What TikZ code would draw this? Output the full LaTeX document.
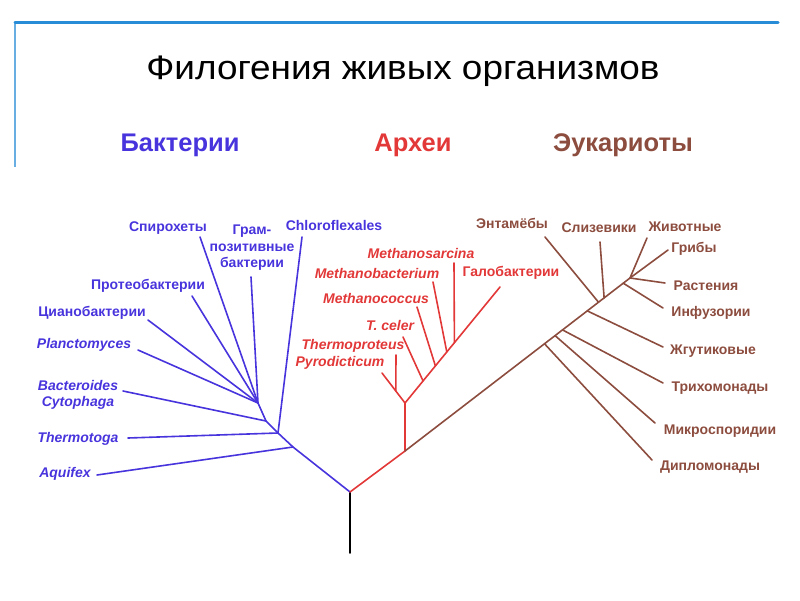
\documentclass[tikz,border=0pt]{standalone}
\usepackage{fontspec}
\setmainfont{Liberation Sans}
\usetikzlibrary{calc}
\definecolor{frameblue}{RGB}{40,140,215}
\definecolor{bacblue}{RGB}{72,52,220}
\definecolor{arcred}{RGB}{226,56,56}
\definecolor{eukbrown}{RGB}{140,76,62}
\newcommand{\widetext}[2]{\scalebox{#1}[1]{#2}}

\begin{document}
\begin{tikzpicture}[x=1pt,y=-1pt,
    branch/.style={line width=1.6pt, line cap=round},
    bac/.style={branch, bacblue},
    arc/.style={branch, arcred},
    euk/.style={branch, eukbrown},
    leaf/.style={font=\fontsize{14}{16.5}\selectfont\bfseries, inner sep=0pt, align=center},
    latin/.style={leaf, font=\fontsize{14}{16.5}\selectfont\bfseries\itshape},
    kingdom/.style={font=\fontsize{25.5}{28}\selectfont\bfseries, inner sep=0pt}]
  \useasboundingbox (0,0) rectangle (800,600);

  \coordinate (fl) at (15,167);
  \coordinate (fc) at (15,22);
  \coordinate (fr) at (778,22);
  \draw[frameblue!70, line width=1.4pt] (fl) -- (fc);
  \draw[frameblue, line width=3pt, line cap=round] (fc) -- (fr);

  \node[inner sep=0pt, font=\fontsize{34}{38}\selectfont] (title) at (403,71) {\widetext{1.085}{Филогения живых организмов}};
  \node[kingdom, bacblue] (bacteria) at (180,145) {Бактерии};
  \node[kingdom, arcred] (archaea) at (413,145) {Археи};
  \node[kingdom, eukbrown] (eukarya) at (623,145) {Эукариоты};

  \coordinate (base) at (350,553);
  \coordinate (root) at (350,492);
  \draw[branch, black] (base) -- (root);

  % bacteria
  \coordinate (b1) at (293,447);
  \coordinate (b2) at (278,433);
  \coordinate (b3) at (266,421);
  \coordinate (b4) at (258,403);
  \coordinate (aquifex) at (97,475);
  \coordinate (thermotoga) at (128,438);
  \coordinate (chloro) at (302,237);
  \coordinate (bactero) at (123,391);
  \coordinate (plancto) at (138,350);
  \coordinate (cyano) at (148,320);
  \coordinate (proteo) at (192,296);
  \coordinate (spiro) at (200,237);
  \coordinate (gram) at (251,277);
  \draw[bac] (root) -- (b1) -- (b2) -- (b3) -- (b4);
  \draw[bac] (b1) -- (aquifex);
  \draw[bac] (b2) -- (thermotoga);
  \draw[bac] (b2) -- (chloro);
  \draw[bac] (b3) -- (bactero);
  \foreach \tip in {plancto, cyano, proteo, spiro, gram}
    \draw[bac] (b4) -- (\tip);

  \node[latin, bacblue] (laquifex) at (65,474) {Aquifex};
  \node[latin, bacblue] (lthermotoga) at (78,439) {Thermotoga};
  \node[latin, bacblue] (lbactero) at (78,395) {Bacteroides\\Cytophaga};
  \node[latin, bacblue] (lplancto) at (84,345) {Planctomyces};
  \node[leaf, bacblue] (lcyano) at (92,313) {Цианобактерии};
  \node[leaf, bacblue] (lproteo) at (148,286) {Протеобактерии};
  \node[leaf, bacblue] (lspiro) at (168,228) {Спирохеты};
  \node[leaf, bacblue] (lgram) at (252,248) {Грам-\\позитивные\\бактерии};
  \node[leaf, bacblue] (lchloro) at (334,225) {Chloroflexales};

  % archaea
  \coordinate (a0) at (405,451);
  \coordinate (a1) at (405,403);
  \coordinate (galo) at (500,287);
  \coordinate (pyro) at (382,373);
  \coordinate (tprot) at (396,355);
  \coordinate (tceler) at (403,337);
  \coordinate (mcoccus) at (417,307);
  \coordinate (mbact) at (433,282);
  \coordinate (msarc) at (454,263);
  \draw[arc] (root) -- (a0) -- (a1) -- (galo);
  \draw[arc] (a1) -- (pyro);
  \draw[arc] ($(a1)!0.4!(pyro)$) -- (tprot);
  \draw[arc] ($(a1)!0.19!(galo)$) -- (tceler);
  \draw[arc] ($(a1)!0.32!(galo)$) -- (mcoccus);
  \draw[arc] ($(a1)!0.44!(galo)$) -- (mbact);
  \draw[arc] ($(a1)!0.52!(galo)$) -- (msarc);

  \node[latin, arcred] (lmsarc) at (421,253) {Methanosarcina};
  \node[latin, arcred] (lmbact) at (377,273) {Methanobacterium};
  \node[leaf, arcred] (lgalo) at (511,273) {Галобактерии};
  \node[latin, arcred] (lmcoccus) at (376,298) {Methanococcus};
  \node[latin, arcred] (ltceler) at (390,325) {T. celer};
  \node[latin, arcred] (ltprot) at (353,346) {Thermoproteus};
  \node[latin, arcred] (lpyro) at (340,363) {Pyrodicticum};

  % eukaryotes
  \coordinate (e1) at (630,278);
  \coordinate (diplo) at (652,460);
  \coordinate (mikro) at (655,423);
  \coordinate (trikho) at (663,383);
  \coordinate (zhgut) at (663,347);
  \coordinate (entam) at (545,237);
  \coordinate (sliz) at (600,242);
  \coordinate (infuz) at (663,308);
  \coordinate (zhiv) at (647,238);
  \coordinate (griby) at (668,250);
  \coordinate (rast) at (665,283);
  \draw[euk] (a0) -- (e1);
  \draw[euk] ($(a0)!0.62!(e1)$) -- (diplo);
  \draw[euk] ($(a0)!0.667!(e1)$) -- (mikro);
  \draw[euk] ($(a0)!0.70!(e1)$) -- (trikho);
  \draw[euk] ($(a0)!0.81!(e1)$) -- (zhgut);
  \draw[euk] ($(a0)!0.86!(e1)$) -- (entam);
  \draw[euk] ($(a0)!0.885!(e1)$) -- (sliz);
  \draw[euk] ($(a0)!0.97!(e1)$) -- (infuz);
  \foreach \tip in {zhiv, griby, rast}
    \draw[euk] (e1) -- (\tip);

  \node[leaf, eukbrown] (lentam) at (512,223) {Энтамёбы};
  \node[leaf, eukbrown] (lsliz) at (599,228) {Слизевики};
  \node[leaf, eukbrown] (lzhiv) at (685,227) {Животные};
  \node[leaf, eukbrown] (lgriby) at (694,249) {Грибы};
  \node[leaf, eukbrown] (lrast) at (706,286) {Растения};
  \node[leaf, eukbrown] (linfuz) at (711,313) {Инфузории};
  \node[leaf, eukbrown] (lzhgut) at (713,351) {Жгутиковые};
  \node[leaf, eukbrown] (ltrikho) at (720,388) {Трихомонады};
  \node[leaf, eukbrown] (lmikro) at (720,431) {Микроспоридии};
  \node[leaf, eukbrown] (ldiplo) at (710,467) {Дипломонады};
\end{tikzpicture}
\end{document}
